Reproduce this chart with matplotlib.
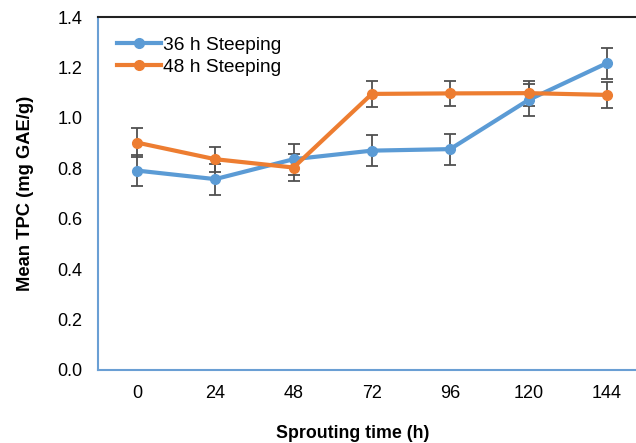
import numpy as np
import matplotlib
matplotlib.use("Agg")
import matplotlib.pyplot as plt

plt.rcParams['font.family'] = ['Liberation Sans', 'DejaVu Sans']

hours = ['0', '24', '48', '72', '96', '120', '144']
steep36 = [0.791, 0.757, 0.836, 0.870, 0.876, 1.071, 1.217]
steep36_err = [0.062, 0.061, 0.061, 0.062, 0.061, 0.062, 0.062]
steep48 = [0.902, 0.836, 0.803, 1.095, 1.097, 1.098, 1.091]
steep48_err = [0.056, 0.050, 0.053, 0.051, 0.051, 0.050, 0.052]

blue = '#5B9BD5'
orange = '#ED7D31'

fig = plt.figure(figsize=(6.36, 4.43), dpi=100)
ax = fig.add_axes([97.7/636, 73/443, (646-97.7)/636, 353/443])

x = np.arange(len(hours))
e36 = ax.errorbar(x, steep36, yerr=steep36_err, color=blue, lw=3, marker='o', ms=7,
                  ecolor='#505050', elinewidth=1.3, capsize=4, capthick=1.3, zorder=3)
e48 = ax.errorbar(x, steep48, yerr=steep48_err, color=orange, lw=3, marker='o', ms=7,
                  ecolor='#505050', elinewidth=1.3, capsize=4, capthick=1.3, zorder=3)

ax.set_xlim(-0.5, 6.5)
ax.set_ylim(0, 1.4)
ax.set_xticks(x)
ax.set_xticklabels(hours)
ax.set_yticks(np.arange(0, 1.41, 0.2))
ax.set_yticklabels(['{0:.1f}'.format(v) for v in np.arange(0, 1.41, 0.2)])
ax.tick_params(length=0, labelsize=13, pad=11)

ax.spines['left'].set_color('#6A9FD4')
ax.spines['bottom'].set_color('#6A9FD4')
ax.spines['left'].set_linewidth(1.5)
ax.spines['bottom'].set_linewidth(1.5)
ax.spines['top'].set_color('#222222')
ax.spines['top'].set_linewidth(1.5)
ax.spines['right'].set_visible(False)

ax.set_ylabel('Mean TPC (mg GAE/g)', fontsize=13.2, fontweight='bold')
ax.yaxis.set_label_coords(-(97.7-34)/(646-97.7), 0.5)
ax.set_xlabel('Sprouting time (h)', fontsize=12.8, fontweight='bold')
ax.xaxis.set_label_coords((353-97.7)/(646-97.7), -(425-370)/353)

ax.legend([e36.lines[0], e48.lines[0]], ['36 h Steeping', '48 h Steeping'],
          loc='upper left', frameon=False, fontsize=13.8, handlelength=2.3,
          handletextpad=0.1, borderaxespad=0.6, labelspacing=0.25)

plt.savefig('out.png', dpi=100)
